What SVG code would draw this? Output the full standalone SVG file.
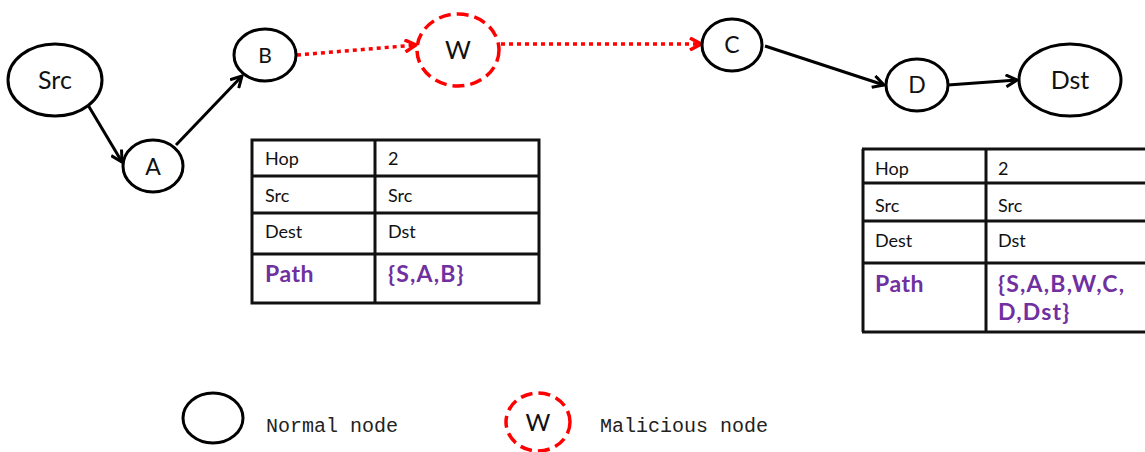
<svg xmlns="http://www.w3.org/2000/svg" width="1145" height="452" viewBox="0 0 1145 452">
  <defs>
    <style>
      .node { fill: #fff; stroke: #000; stroke-width: 3; }
      .bad { fill: #fff; stroke: #ff0000; stroke-width: 3.5; stroke-dasharray: 12 6; }
      .label { font-family: Lato, "Open Sans", sans-serif; fill: #111; text-anchor: middle; }
      .edge { fill: none; stroke: #000; stroke-width: 3; marker-end: url(#arrowBlack); }
      .edge-bad { fill: none; stroke: #ff0000; stroke-width: 3.5; stroke-dasharray: 4 4; marker-end: url(#arrowRed); }
      .grid { stroke: #111; stroke-width: 3; fill: none; }
      .cell { font-family: Lato, "Open Sans", sans-serif; font-size: 18px; fill: #111; }
      .path { font-family: Lato, "Open Sans", sans-serif; font-size: 23px; font-weight: bold; fill: #7030a0; letter-spacing: 0.5px; }
      .pathval { letter-spacing: 1.2px; }
      .legend { font-family: "Liberation Mono", "DejaVu Sans Mono", monospace; font-size: 20px; fill: #222; }
    </style>
    <marker id="arrowBlack" viewBox="0 0 14 14" refX="12" refY="7" markerWidth="14" markerHeight="14" markerUnits="userSpaceOnUse" orient="auto">
      <path d="M1,1 L12,7 L1,13" fill="none" stroke="#000" stroke-width="3"/>
    </marker>
    <marker id="arrowRed" viewBox="0 0 14 14" refX="12" refY="7" markerWidth="14" markerHeight="14" markerUnits="userSpaceOnUse" orient="auto">
      <path d="M1,1 L12,7 L1,13" fill="none" stroke="#ff0000" stroke-width="3.5"/>
    </marker>
  </defs>

  <rect width="1145" height="452" fill="#fff"/>

  <!-- connectors -->
  <g id="connectors">
    <line class="edge" x1="88" y1="105" x2="122" y2="162"/>
    <line class="edge" x1="176" y1="145" x2="242" y2="76"/>
    <line class="edge-bad" x1="297" y1="55" x2="416" y2="45"/>
    <line class="edge-bad" x1="501" y1="44" x2="701" y2="44"/>
    <line class="edge" x1="765" y1="46" x2="884" y2="85"/>
    <line class="edge" x1="948" y1="85" x2="1017" y2="80"/>
  </g>

  <!-- route nodes -->
  <g id="node-src">
    <ellipse class="node" cx="55" cy="80" rx="47" ry="36"/>
    <text class="label" x="55" y="89" font-size="25">Src</text>
  </g>
  <g id="node-a">
    <ellipse class="node" cx="153" cy="166" rx="30" ry="26"/>
    <text class="label" x="153" y="175" font-size="23">A</text>
  </g>
  <g id="node-b">
    <ellipse class="node" cx="265" cy="55" rx="31" ry="26"/>
    <text class="label" x="265" y="63" font-size="21">B</text>
  </g>
  <g id="node-w">
    <ellipse class="bad" cx="458" cy="50" rx="41" ry="36"/>
    <text class="label" x="458" y="59" font-size="25">W</text>
  </g>
  <g id="node-c">
    <ellipse class="node" cx="732" cy="45" rx="30" ry="26"/>
    <text class="label" x="732" y="53" font-size="23">C</text>
  </g>
  <g id="node-d">
    <ellipse class="node" cx="917" cy="85" rx="31" ry="26"/>
    <text class="label" x="917" y="93" font-size="23">D</text>
  </g>
  <g id="node-dst">
    <ellipse class="node" cx="1070" cy="80" rx="51" ry="36"/>
    <text class="label" x="1070" y="89" font-size="25">Dst</text>
  </g>

  <!-- route record at B -->
  <g id="table-b">
    <rect class="grid" x="252" y="140" width="287" height="163"/>
    <line class="grid" x1="375" y1="140" x2="375" y2="303"/>
    <line class="grid" x1="252" y1="176" x2="539" y2="176"/>
    <line class="grid" x1="252" y1="213" x2="539" y2="213"/>
    <line class="grid" x1="252" y1="254" x2="539" y2="254"/>
    <text class="cell" x="265" y="165">Hop</text>
    <text class="cell" x="388" y="165">2</text>
    <text class="cell" x="265" y="202">Src</text>
    <text class="cell" x="388" y="202">Src</text>
    <text class="cell" x="265" y="238">Dest</text>
    <text class="cell" x="388" y="238">Dst</text>
    <text class="path" x="265" y="282">Path</text>
    <text class="path pathval" x="388" y="282">{S,A,B}</text>
  </g>

  <!-- route record at Dst -->
  <g id="table-dst">
    <line class="grid" x1="863" y1="149" x2="863" y2="332"/>
    <line class="grid" x1="986" y1="149" x2="986" y2="332"/>
    <line class="grid" x1="862" y1="149" x2="1145" y2="149"/>
    <line class="grid" x1="862" y1="183" x2="1145" y2="183"/>
    <line class="grid" x1="862" y1="221" x2="1145" y2="221"/>
    <line class="grid" x1="862" y1="263" x2="1145" y2="263"/>
    <line class="grid" x1="862" y1="332" x2="1145" y2="332"/>
    <text class="cell" x="875" y="175">Hop</text>
    <text class="cell" x="998" y="175">2</text>
    <text class="cell" x="875" y="212">Src</text>
    <text class="cell" x="998" y="212">Src</text>
    <text class="cell" x="875" y="247">Dest</text>
    <text class="cell" x="998" y="247">Dst</text>
    <text class="path" x="875" y="292">Path</text>
    <text class="path pathval" x="998" y="292">{S,A,B,W,C,</text>
    <text class="path pathval" x="998" y="320">D,Dst}</text>
  </g>

  <!-- legend -->
  <g id="legend-normal">
    <ellipse class="node" cx="213" cy="418" rx="30" ry="25"/>
    <text class="legend" x="266" y="432">Normal node</text>
  </g>
  <g id="legend-malicious">
    <ellipse class="bad" cx="538" cy="422" rx="32" ry="29"/>
    <text class="label" x="538" y="431" font-size="24">W</text>
    <text class="legend" x="600" y="432">Malicious node</text>
  </g>
</svg>
